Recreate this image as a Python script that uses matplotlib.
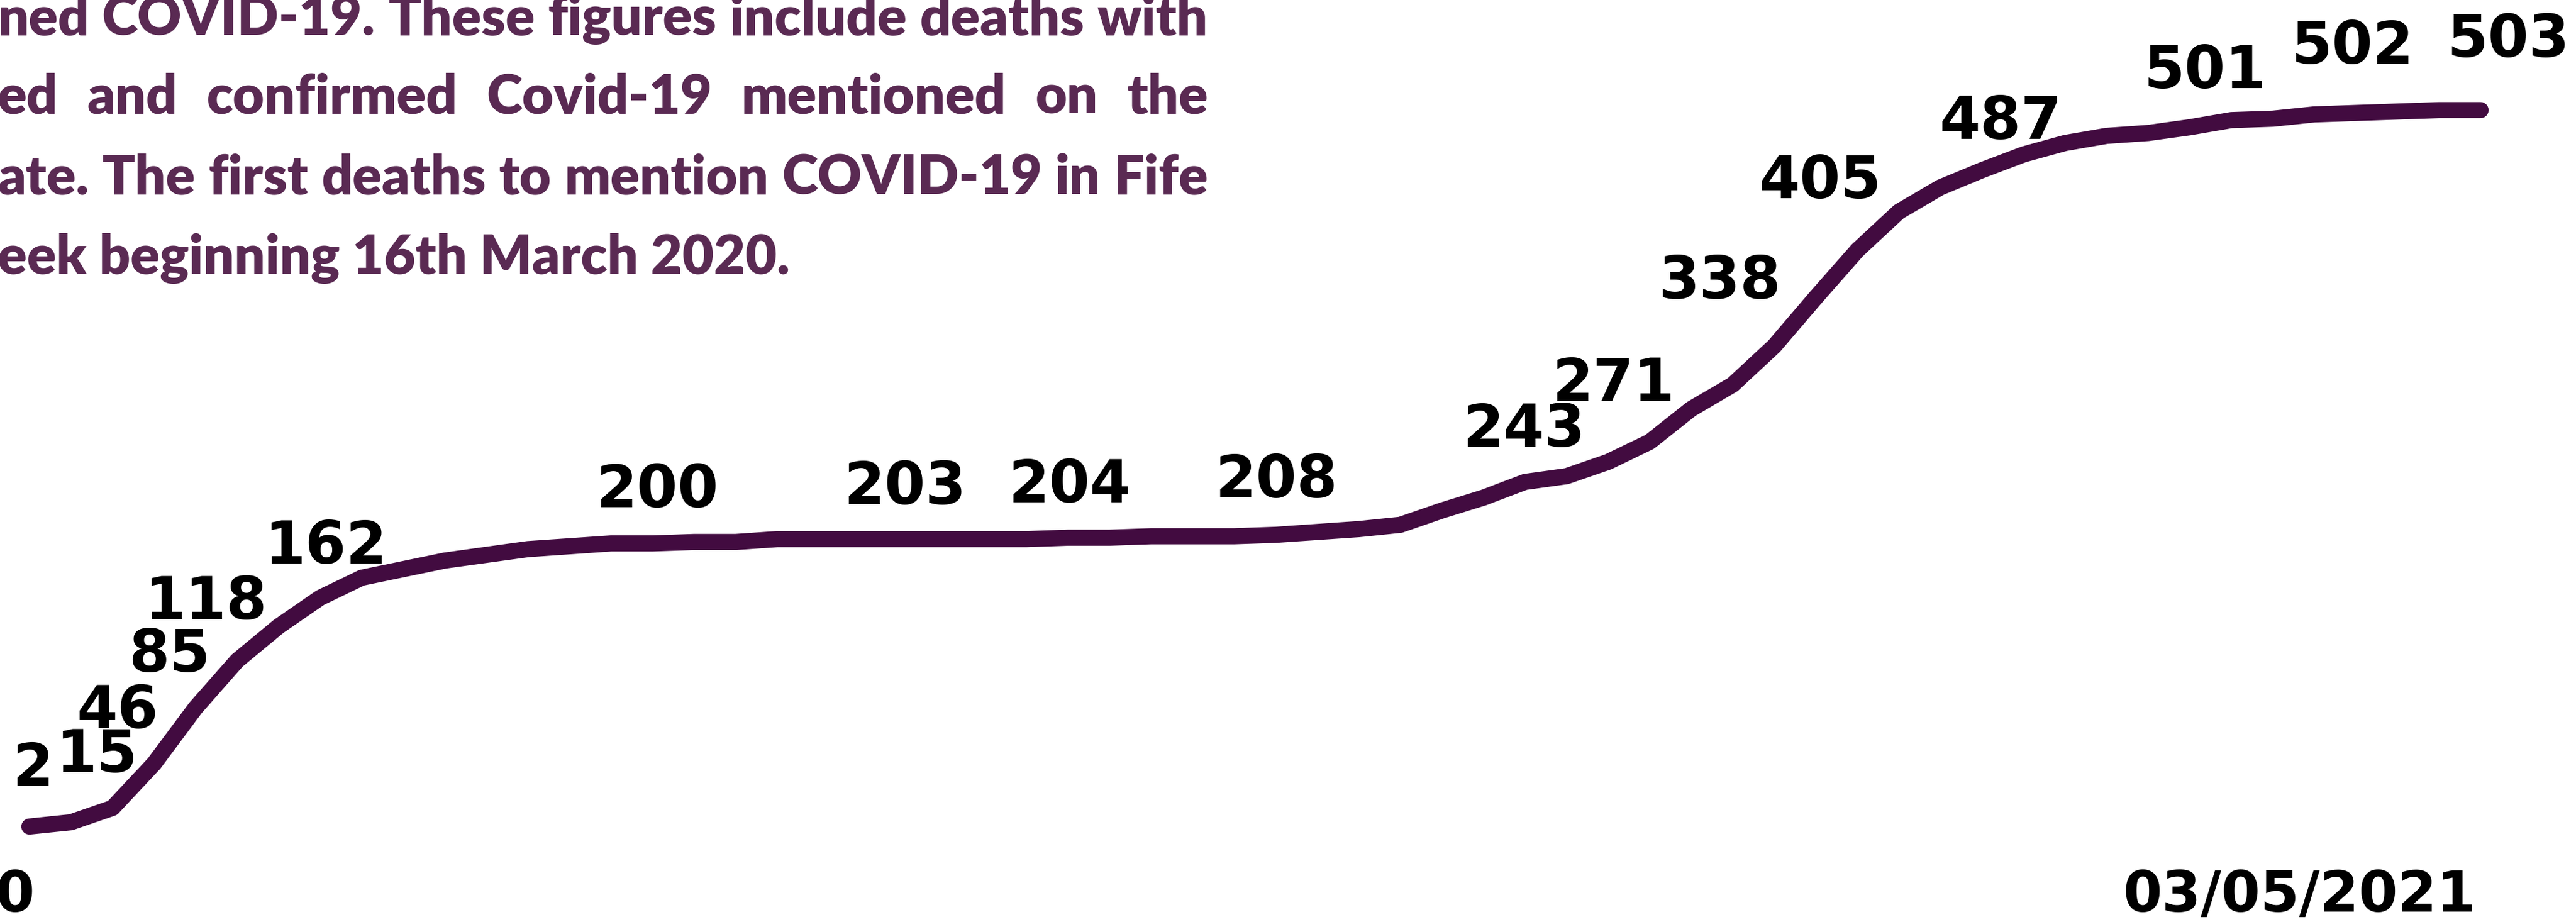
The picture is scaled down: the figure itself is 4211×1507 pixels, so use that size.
#cumulative covid deaths in fife, weekly line with hand placed labels
import matplotlib
matplotlib.use("Agg")
import matplotlib.pyplot as plt

#weekly cumulative deaths, 16/03/2020 to 03/05/2021
weeks = list(range(60))
deaths = [2, 5, 15, 46, 85, 118, 142, 162, 176, 182, 188, 192, 196, 198, 200,
          200, 201, 201, 203, 203, 203, 203, 203, 203, 203, 204, 204, 205, 205, 205,
          206, 208, 210, 213, 223, 232, 243, 247, 257, 271, 294, 311, 338, 372, 405,
          432, 449, 461, 472, 480, 485, 487, 491, 496, 497, 500, 501, 502, 503, 503]

#labels shown on the chart
label_vals = [2, 15, 46, 85, 118, 162, 200, 203, 204, 208, 243, 271, 338, 405, 487, 501, 502, 503]
#where each label sits (week, deaths)
label_x = [0.09, 1.62, 2.13, 3.37, 4.24, 7.13, 15.11, 21.08, 25.04, 30.02,
           35.98, 38.13, 40.69, 43.11, 47.45, 52.37, 55.92, 59.67]
label_y = [42.2, 51.2, 82.4, 121.4, 158.2, 197.5, 236.5, 238.6, 239.9, 243.3,
           278.9, 310.9, 382.4, 452.6, 494.1, 529.6, 546.7, 551.4]

#date labels (first one is cut off at the edge)
date_text = ["0", "03/05/2021"]
date_x = [-0.35, 54.65]

#note text, only the visible part of each line
note_lines = ["ned COVID-19. These figures include deaths with",
              "ed and confirmed Covid-19 mentioned on the",
              "ate.  The first deaths to mention COVID-19 in Fife",
              "eek beginning 16th March 2020."]
note_justify = [True, True, True, False]

W, H = 4211, 1507
fig = plt.figure(figsize=(W / 100, H / 100), dpi=100)
ax = fig.add_axes([0, 0, 1, 1])
ax.axis("off")
ax.set_xlim(-0.707, 61.297)
ax.set_ylim(-64.75, 580.0)

ax.plot(weeks, deaths, color="#420b40", lw=19,
        solid_capstyle="round", solid_joinstyle="round")

for v, x, y in zip(label_vals, label_x, label_y):
    ax.text(x, y, str(v), ha="center", va="center", fontsize=69,
            fontweight="bold", family="DejaVu Sans", color="black")

for t, x in zip(date_text, date_x):
    ax.text(x, -46.4, t, ha="center", va="center", fontsize=66,
            fontweight="bold", family="DejaVu Sans", color="black")

#justified paragraph at top left
txt_color = "#5a2a53"
fsize = 64
baselines = [57, 185, 317, 448]
x_left, x_right = -4, 1975
fig.canvas.draw()
rend = fig.canvas.get_renderer()
for line, base, just in zip(note_lines, baselines, note_justify):
    yf = 1 - base / H
    if not just:
        fig.text(x_left / W, yf, line, ha="left", va="baseline", fontsize=fsize,
                 fontweight="heavy", family="Lato", color=txt_color)
        continue
    words = line.split()
    items = []
    total = 0
    for w in words:
        t = fig.text(0, yf, w, ha="left", va="baseline", fontsize=fsize,
                     fontweight="heavy", family="Lato", color=txt_color)
        wpx = t.get_window_extent(renderer=rend).width
        items.append((t, wpx))
        total += wpx
    gap = (x_right - x_left - total) / (len(words) - 1)
    xp = x_left
    for t, wpx in items:
        t.set_x(xp / W)
        xp += wpx + gap

fig.savefig("out.png", dpi=100)
